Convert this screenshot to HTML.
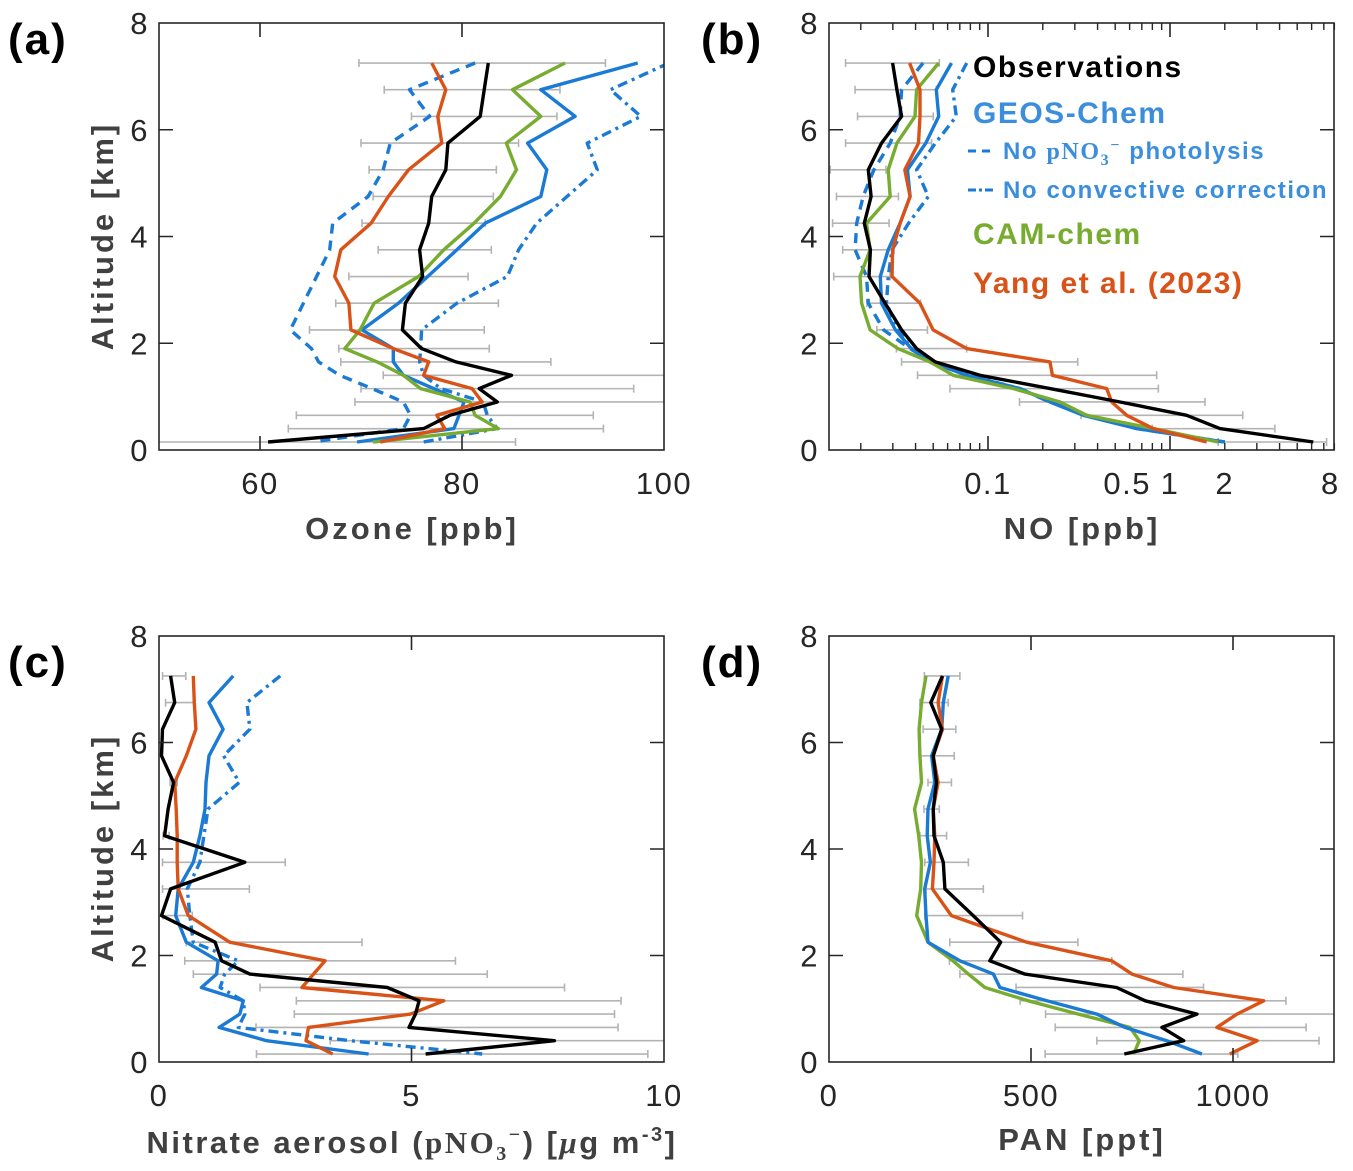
<!DOCTYPE html>
<html><head><meta charset="utf-8"><style>
body{margin:0;background:#fff}
svg{display:block;font-family:"Liberation Sans",sans-serif}
.tk{font-size:31px;fill:#262626;letter-spacing:1.5px}
.tt{font-size:31px;font-weight:bold;fill:#404040;letter-spacing:3px}
.pl{font-size:44px;font-weight:bold;fill:#000;letter-spacing:2px}
.lg{font-weight:bold}
</style></head><body>
<svg id="fig" width="1353" height="1171" viewBox="0 0 1353 1171">
<defs>
<clipPath id="ca"><rect x="159" y="23" width="505" height="427"/></clipPath>
<clipPath id="cb"><rect x="829" y="23" width="505" height="427"/></clipPath>
<clipPath id="cc"><rect x="159" y="636" width="505" height="426"/></clipPath>
<clipPath id="cd"><rect x="829" y="636" width="505" height="426"/></clipPath>
</defs>
<g>
<text class="pl" x="8" y="54">(a)</text>
<text class="pl" x="701" y="54">(b)</text>
<text class="pl" x="8" y="677">(c)</text>
<text class="pl" x="701" y="677">(d)</text>
</g>
<text class="tt" transform="translate(113,236) rotate(-90)" text-anchor="middle">Altitude [km]</text>
<text class="tt" transform="translate(113,848) rotate(-90)" text-anchor="middle">Altitude [km]</text>
<text class="tt" x="412" y="539" text-anchor="middle">Ozone [ppb]</text>
<text class="tt" x="1082" y="539" text-anchor="middle">NO [ppb]</text>
<text class="tt" x="412" y="1153" text-anchor="middle" style="letter-spacing:2.5px">Nitrate aerosol (<tspan font-family="Liberation Serif,serif">pNO<tspan font-size="20" dy="7">3</tspan><tspan font-size="20" dy="-19">−</tspan></tspan><tspan dy="12">) [</tspan><tspan font-style="italic" font-family="Liberation Serif,serif">μ</tspan>g m<tspan font-size="20" dy="-12">-3</tspan><tspan dy="12">]</tspan></text>
<text class="tt" x="1082" y="1150" text-anchor="middle">PAN [ppt]</text>
<g>
<text class="lg" x="973" y="77" font-size="30" letter-spacing="1.5" fill="#000">Observations</text>
<text class="lg" x="973" y="123" font-size="30" letter-spacing="1.5" fill="#3a8edb">GEOS-Chem</text>
<line x1="968" y1="151" x2="995" y2="151" stroke="#1a7ad4" stroke-width="3" stroke-dasharray="8,6"/>
<text class="lg" x="1003" y="159" font-size="24" letter-spacing="1.6" fill="#3a8edb">No <tspan font-family="Liberation Serif,serif">pNO<tspan font-size="16" dy="6">3</tspan><tspan font-size="16" dy="-15">−</tspan></tspan><tspan dy="9"> photolysis</tspan></text>
<line x1="968" y1="190" x2="995" y2="190" stroke="#1a7ad4" stroke-width="3" stroke-dasharray="8,3,3,3"/>
<text class="lg" x="1003" y="198" font-size="24" letter-spacing="1.6" fill="#3a8edb">No convective correction</text>
<text class="lg" x="973" y="244" font-size="30" letter-spacing="1.5" fill="#77ac30">CAM-chem</text>
<text class="lg" x="973" y="293" font-size="30" letter-spacing="1.5" fill="#d95319">Yang et al. (2023)</text>
</g>
</svg>
<script>
const alt = [7.25,6.75,6.25,5.75,5.25,4.75,4.25,3.75,3.25,2.75,2.25,1.9,1.65,1.4,1.15,0.9,0.65,0.4,0.15];
const altTicks = [0,2,4,6,8];
// (a) Ozone
const o3Obs = [82.6,82.2,81.8,78.6,78.4,77.0,76.7,75.8,76.1,74.4,74.1,76.0,79.4,84.9,81.7,83.5,78.8,76.2,60.8];
const o3Lo = [69.8,72.3,75.0,70.0,70.8,71.2,70.1,71.7,68.8,67.5,64.9,67.8,68.0,72.2,70.0,69.4,63.6,62.8,48];
const o3Hi = [94.2,89.7,89.4,85.6,83.4,83.1,82.3,82.9,80.6,83.6,82.2,82.7,88.8,102,97.0,101,93.0,94.0,85.3];
const o3Geos = [97.4,87.8,91.2,86.5,88.4,87.8,82.3,79.5,76.6,73.7,70.1,73.2,73.2,74.2,77.2,80.2,79.7,79.2,69.6];
const o3NoPhot = [81.3,74.8,76.8,72.9,72.2,70.7,67.2,66.9,65.6,64.3,63.0,65.1,65.8,67.9,71.1,74.2,74.9,74.2,65.3];
const o3NoConv = [100.5,94.7,97.7,92.4,93.4,90.4,87.4,85.6,84.5,79.5,76.0,75.9,75.8,76.2,77.9,82.1,82.5,83.5,76.2];
const o3Cam = [90.2,85.0,87.8,84.4,85.4,83.8,81.2,78.2,75.7,71.3,69.9,68.4,71.6,74.2,75.9,80.8,81.3,83.6,71.2];
const o3Yang = [77.0,78.4,77.6,78.0,74.7,72.7,71.0,68.0,67.4,68.8,69.0,73.2,76.7,76.2,81.0,82.0,77.5,78.3,71.9];
const o3Ticks = [60,80,100];
// (b) NO
const noObs = [0.0299,0.0316,0.0335,0.026,0.022,0.0228,0.0209,0.0226,0.0222,0.0272,0.0335,0.0405,0.0513,0.0904,0.219,0.531,1.235,1.88,6.13];
const noLo = [0.0165,0.0186,0.0192,0.0165,0.0136,0.0147,0.014,0.0159,0.0142,0.0216,0.0245,0.0314,0.0335,0.041,0.0618,0.149,0.3245,0.80,1.84];
const noHi = [0.054,0.052,0.050,0.049,0.0275,0.0322,0.0286,0.0305,0.029,0.0426,0.0465,0.0763,0.311,0.845,0.863,1.556,2.51,3.77,7.25];
const noGeos = [0.063,0.052,0.0536,0.0455,0.0361,0.0373,0.0329,0.0283,0.0256,0.026,0.031,0.0379,0.048,0.0764,0.150,0.219,0.334,0.656,2.0];
const noNoPhot = [0.044,0.0335,0.0329,0.029,0.0236,0.0206,0.019,0.0186,0.0215,0.022,0.0267,0.0373,0.049,0.0764,0.148,0.219,0.348,0.656,2.0];
const noNoConv = [0.0764,0.064,0.067,0.0514,0.0405,0.047,0.0366,0.0297,0.0283,0.0277,0.032,0.038,0.049,0.078,0.150,0.219,0.348,0.67,2.0];
const noCam = [0.0536,0.0405,0.0397,0.0316,0.0283,0.029,0.0215,0.0225,0.0198,0.0202,0.0225,0.032,0.048,0.0645,0.138,0.249,0.348,0.81,1.84];
const noYang = [0.0371,0.0423,0.0423,0.0415,0.0349,0.0373,0.0329,0.0299,0.0297,0.0423,0.0499,0.0765,0.219,0.226,0.449,0.478,0.578,0.81,1.59];
const noTicks = [0.1,0.5,1,2,8];
const noMajor = [0.1,1];
const noMinor = [0.02,0.03,0.04,0.05,0.06,0.07,0.08,0.09,0.2,0.3,0.4,0.5,0.6,0.7,0.8,0.9,2,3,4,5,6,7,8];
// (c) Nitrate
const nitObs = [0.23,0.31,0.07,0.05,0.29,0.18,0.11,1.70,0.23,0.05,1.11,1.24,1.80,4.52,5.15,5.08,4.95,7.83,5.28];
const nitLo = [0.07,0.13,0.07,0.05,0.22,0.18,0.08,0.07,0.07,0.08,0.54,0.51,0.68,2.00,2.72,2.68,1.92,3.39,1.93];
const nitHi = [0.53,0.70,0.07,0.05,0.36,0.18,0.20,2.50,1.79,0.66,4.02,5.87,6.50,8.03,9.15,9.02,9.09,10.05,9.68];
const nitGeos = [1.47,0.99,1.27,0.99,0.93,0.91,0.81,0.68,0.38,0.33,0.54,1.17,1.14,0.84,1.67,1.60,1.19,2.13,4.15];
const nitNoConv = [2.40,1.74,1.80,1.28,1.59,0.97,0.89,0.81,0.56,0.61,0.68,1.57,1.30,1.21,1.67,1.70,1.57,3.79,6.40];
const nitYang = [0.68,0.70,0.73,0.54,0.31,0.34,0.36,0.36,0.38,0.58,1.40,3.29,3.06,2.83,5.64,4.98,2.96,2.91,3.44];
const nitTicks = [0,5,10];
// (d) PAN
const panObs = [281,252,279,258,266,258,260,283,287,357,425,398,485,712,783,911,824,878,731];
const panLo = [236,225,233,225,245,235,225,237,240,237,299,298,324,463,473,536,560,663,535];
const panHi = [324,295,314,310,303,273,291,345,382,479,616,700,876,927,1131,1254,1181,1213,1012];
const panGeos = [295,283,279,254,262,245,243,251,237,240,245,324,407,423,539,663,733,836,923];
const panCam = [240,229,223,225,229,212,222,229,227,217,245,307,345,386,493,617,745,768,754];
const panYang = [281,270,281,258,270,258,262,260,256,303,489,700,750,853,1076,1010,960,1060,992];
const panTicks = [0,500,1000];

const NS='http://www.w3.org/2000/svg';
const svg=document.getElementById('fig');
const BLUE='#1a7ad4',GREEN='#77ac30',ORANGE='#d95319',BLACK='#000';
function mk(tag,attrs,parent){const e=document.createElementNS(NS,tag);for(const k in attrs)e.setAttribute(k,attrs[k]);(parent||svg).appendChild(e);return e;}

function panel(id,box,sx,sy,xTickVals,xTickLabels,series,err,minorTicks){
  const g=mk('g',{});
  
  
  const pg=mk('g',{'clip-path':'url(#c'+id+')'},g);
  for(let i=0;i<alt.length;i++){
    const y=sy(alt[i]),x1=sx(err.lo[i]),x2=sx(err.hi[i]);
    if(Math.abs(x2-x1)<1)continue;
    const eb=mk('path',{d:`M${x1},${y}H${x2}M${x1},${y-4}V${y+4}M${x2},${y-4}V${y+4}`,stroke:'#b4b4b4','stroke-width':1.6,fill:'none'},pg);
    
    
  }
  series.forEach(s=>{
    const d=s.vals.map((v,i)=>(i?'L':'M')+sx(v).toFixed(1)+','+sy(alt[i]).toFixed(1)).join('');
    const p=mk('path',{d:d,stroke:s.color,'stroke-width':3.4,fill:'none','stroke-linejoin':'round'},pg);
    if(s.dash)p.setAttribute('stroke-dasharray',s.dash);
    
    
  });
  const bx=mk('rect',{x:box.x0,y:box.y0,width:box.x1-box.x0,height:box.y1-box.y0,fill:'none',stroke:'#262626','stroke-width':1.6},g);
  
  
  altTicks.forEach(a=>{
    const y=sy(a);
    if(a>0&&a<8) mk('path',{d:`M${box.x0},${y}h14M${box.x1},${y}h-14`,stroke:'#262626','stroke-width':1.6},g);
    const t=mk('text',{x:box.x0-10,y:y+11,'text-anchor':'end',class:'tk'},g);
    t.textContent=a;
    
    
  });
  xTickVals.forEach((v,i)=>{
    const x=sx(v);
    if(x>box.x0+2&&x<box.x1-2) mk('path',{d:`M${x},${box.y0}v14M${x},${box.y1}v-14`,stroke:'#262626','stroke-width':1.6},g);
    if(xTickLabels[i]!==null){
      const t=mk('text',{x:x,y:box.y1+44,'text-anchor':'middle',class:'tk'},g);
      t.textContent=xTickLabels[i];
      
      
    }
  });
  if(minorTicks) minorTicks.forEach(v=>{
    const x=sx(v);
    mk('path',{d:`M${x},${box.y0}v7M${x},${box.y1}v-7`,stroke:'#262626','stroke-width':1.4},g);
  });
}
const syTop=a=>450-a*53.375, syBot=a=>1062-a*53.25;
panel('a',{x0:159,x1:664,y0:23,y1:450},v=>159+(v-50)*10.1,syTop,o3Ticks,o3Ticks,[
 {name:'no-photolysis',vals:o3NoPhot,color:BLUE,dash:'10,7'},
 {name:'no-convective',vals:o3NoConv,color:BLUE,dash:'10,5,3,5'},
 {name:'geos-chem',vals:o3Geos,color:BLUE},
 {name:'cam-chem',vals:o3Cam,color:GREEN},
 {name:'yang',vals:o3Yang,color:ORANGE},
 {name:'observations',vals:o3Obs,color:BLACK}],{lo:o3Lo,hi:o3Hi});
panel('b',{x0:829,x1:1334,y0:23,y1:450},v=>1170+Math.log10(v)*182,syTop,noMajor.concat([]),[], [
 {name:'no-photolysis',vals:noNoPhot,color:BLUE,dash:'10,7'},
 {name:'no-convective',vals:noNoConv,color:BLUE,dash:'10,5,3,5'},
 {name:'geos-chem',vals:noGeos,color:BLUE},
 {name:'cam-chem',vals:noCam,color:GREEN},
 {name:'yang',vals:noYang,color:ORANGE},
 {name:'observations',vals:noObs,color:BLACK}],{lo:noLo,hi:noHi},noMinor);
noTicks.forEach(v=>{
  const t=mk('text',{x:1170+Math.log10(v)*182+(v===0.5?12:0)-(v===8?4:0),y:494,'text-anchor':'middle',class:'tk'});
  t.textContent=v;
  
  
});
panel('c',{x0:159,x1:664,y0:636,y1:1062},v=>159+v*50.5,syBot,nitTicks,nitTicks,[
 {name:'no-convective',vals:nitNoConv,color:BLUE,dash:'10,5,3,5'},
 {name:'geos-chem',vals:nitGeos,color:BLUE},
 {name:'yang',vals:nitYang,color:ORANGE},
 {name:'observations',vals:nitObs,color:BLACK}],{lo:nitLo,hi:nitHi});
panel('d',{x0:829,x1:1334,y0:636,y1:1062},v=>829+v*0.404,syBot,panTicks,panTicks,[
 {name:'cam-chem',vals:panCam,color:GREEN},
 {name:'geos-chem',vals:panGeos,color:BLUE},
 {name:'yang',vals:panYang,color:ORANGE},
 {name:'observations',vals:panObs,color:BLACK}],{lo:panLo,hi:panHi});
</script>
</body></html>
